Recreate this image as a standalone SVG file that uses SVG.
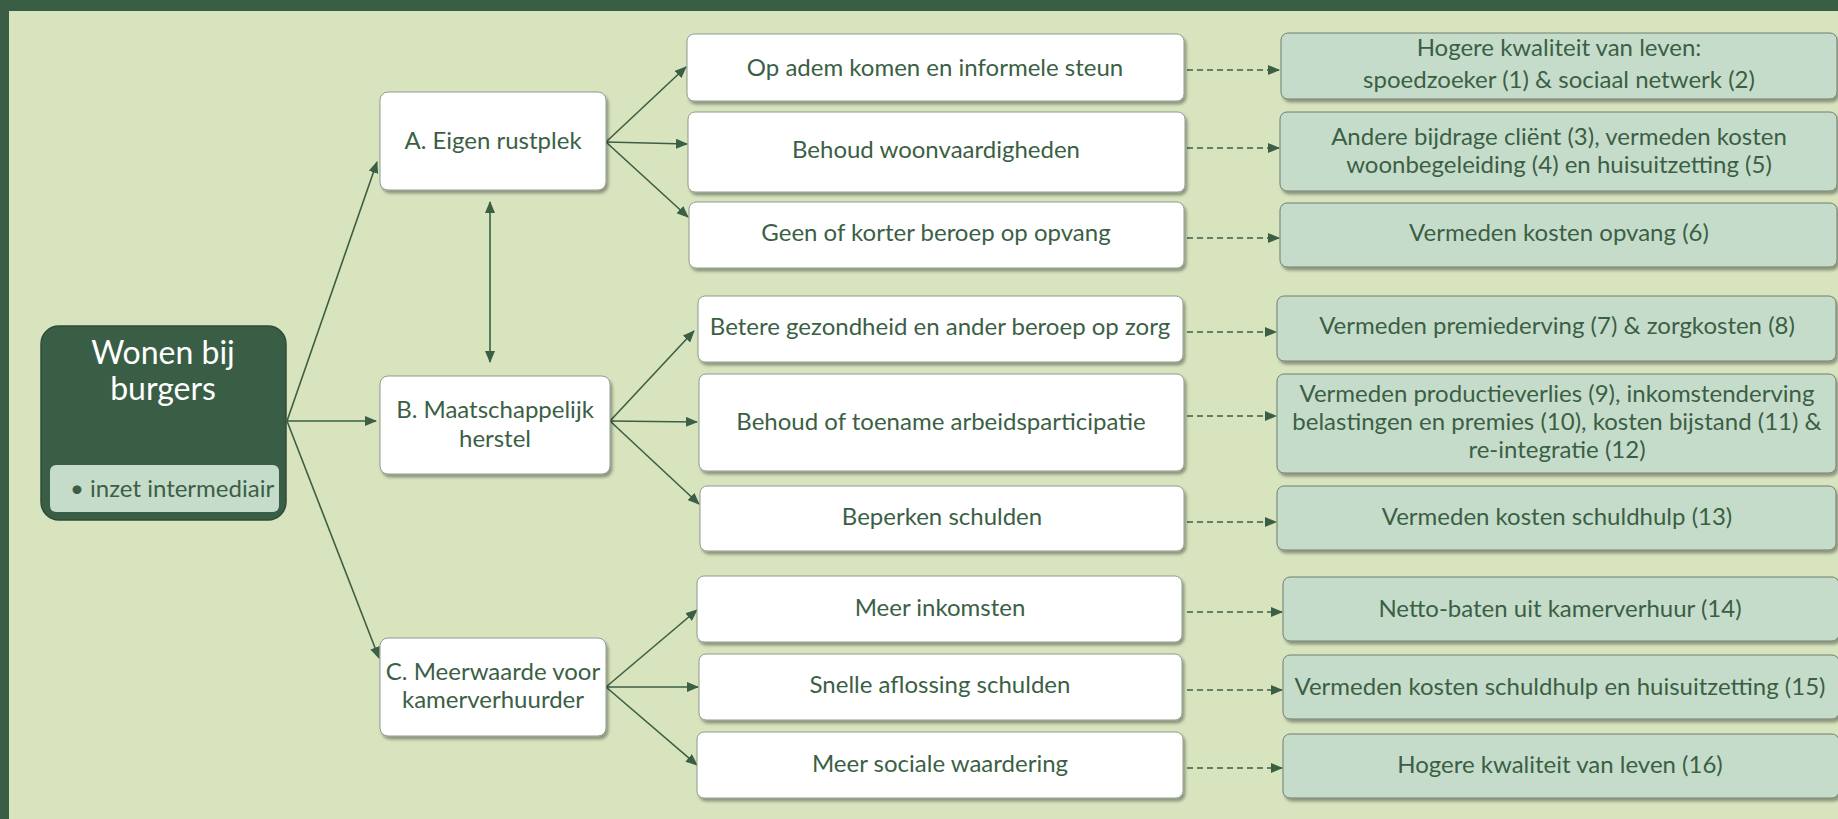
<svg xmlns="http://www.w3.org/2000/svg" width="1838" height="819" viewBox="0 0 1838 819">
<defs>
<style>
.t{font-family:Lato,"Liberation Sans",sans-serif;font-size:24px;fill:#3B5F45;text-anchor:middle}
.wt{font-family:Lato,"Liberation Sans",sans-serif;font-size:32px;fill:#ffffff;text-anchor:middle}
.w{fill:#ffffff;stroke:#8E9A8E;stroke-width:1}
.g{fill:#C6DCCA;stroke:#6E7F70;stroke-width:1}
.c{stroke:#3B5F45;stroke-width:1.6;fill:none}
.d{stroke:#3B5F45;stroke-width:1.6;fill:none;stroke-dasharray:6 4}
</style>
<filter id="sh" x="-5%" y="-10%" width="115%" height="130%"><feDropShadow dx="2" dy="3" stdDeviation="1.5" flood-color="#000" flood-opacity="0.35"/></filter>
<marker id="ah" markerWidth="12" markerHeight="10" refX="11" refY="5" orient="auto-start-reverse" markerUnits="userSpaceOnUse"><path d="M0,0 L12,5 L0,10 z" fill="#3B5F45"/></marker>
</defs>
<rect x="0" y="0" width="1838" height="819" fill="#D8E4BE"/>
<rect x="0" y="0" width="1838" height="11" fill="#3A5E45"/>
<rect x="0" y="0" width="9" height="819" fill="#3A5E45"/>

<g id="connectors">
<path class="c" d="M287,421 L377,162" marker-end="url(#ah)"/>
<path class="c" d="M287,421 L376,421" marker-end="url(#ah)"/>
<path class="c" d="M287,421 L379,658" marker-end="url(#ah)"/>
<path class="c" d="M490,202 L490,362" marker-start="url(#ah)" marker-end="url(#ah)"/>
<path class="c" d="M606,142 L686,67" marker-end="url(#ah)"/>
<path class="c" d="M606,142 L687,144" marker-end="url(#ah)"/>
<path class="c" d="M606,142 L688,217" marker-end="url(#ah)"/>
<path class="c" d="M610,421 L694,331" marker-end="url(#ah)"/>
<path class="c" d="M610,421 L697,422" marker-end="url(#ah)"/>
<path class="c" d="M610,421 L699,504" marker-end="url(#ah)"/>
<path class="c" d="M606,687 L697,610" marker-end="url(#ah)"/>
<path class="c" d="M606,687 L698,687" marker-end="url(#ah)"/>
<path class="c" d="M606,687 L697,765" marker-end="url(#ah)"/>
<path class="d" d="M1187,70 L1279,70" marker-end="url(#ah)"/>
<path class="d" d="M1187,148 L1279,148" marker-end="url(#ah)"/>
<path class="d" d="M1187,238 L1279,238" marker-end="url(#ah)"/>
<path class="d" d="M1187,332 L1276,332" marker-end="url(#ah)"/>
<path class="d" d="M1187,416 L1276,416" marker-end="url(#ah)"/>
<path class="d" d="M1187,522 L1276,522" marker-end="url(#ah)"/>
<path class="d" d="M1187,612 L1282,612" marker-end="url(#ah)"/>
<path class="d" d="M1187,690 L1282,690" marker-end="url(#ah)"/>
<path class="d" d="M1187,768 L1282,768" marker-end="url(#ah)"/>
</g>

<g id="main">
<rect x="41" y="326" width="245" height="194" rx="18" fill="#3A5E45" stroke="#2F4C38" stroke-width="1.5"/>
<text class="wt" x="163" y="364">Wonen bij</text>
<text class="wt" x="163" y="400">burgers</text>
<rect x="50" y="465" width="229" height="47" rx="6" fill="#C6DCCA"/>
<text x="70" y="497" style="font-family:Lato,'Liberation Sans',sans-serif;font-size:24px;fill:#3B5F45">• inzet intermediair</text>
</g>

<g id="nodeA"><rect class="w" filter="url(#sh)" x="380" y="92" width="226" height="98" rx="8"/><text class="t" x="493" y="149">A. Eigen rustplek</text></g>
<g id="nodeB"><rect class="w" filter="url(#sh)" x="380" y="376" width="230" height="98" rx="8"/><text class="t" x="495" y="418">B. Maatschappelijk</text><text class="t" x="495" y="447">herstel</text></g>
<g id="nodeC"><rect class="w" filter="url(#sh)" x="380" y="638" width="226" height="98" rx="8"/><text class="t" x="493" y="680">C. Meerwaarde voor</text><text class="t" x="493" y="708">kamerverhuurder</text></g>

<g id="m1"><rect class="w" filter="url(#sh)" x="687" y="34" width="497" height="67" rx="7"/><text class="t" x="935" y="76">Op adem komen en informele steun</text></g>
<g id="m2"><rect class="w" filter="url(#sh)" x="688" y="112" width="497" height="80" rx="7"/><text class="t" x="936" y="158">Behoud woonvaardigheden</text></g>
<g id="m3"><rect class="w" filter="url(#sh)" x="689" y="202" width="495" height="66" rx="7"/><text class="t" x="936" y="241">Geen of korter beroep op opvang</text></g>
<g id="m4"><rect class="w" filter="url(#sh)" x="698" y="296" width="485" height="66" rx="7"/><text class="t" x="940" y="335">Betere gezondheid en ander beroep op zorg</text></g>
<g id="m5"><rect class="w" filter="url(#sh)" x="699" y="374" width="485" height="97" rx="7"/><text class="t" x="941" y="430">Behoud of toename arbeidsparticipatie</text></g>
<g id="m6"><rect class="w" filter="url(#sh)" x="700" y="486" width="484" height="65" rx="7"/><text class="t" x="942" y="525">Beperken schulden</text></g>
<g id="m7"><rect class="w" filter="url(#sh)" x="697" y="576" width="485" height="66" rx="7"/><text class="t" x="940" y="616">Meer inkomsten</text></g>
<g id="m8"><rect class="w" filter="url(#sh)" x="699" y="654" width="483" height="66" rx="7"/><text class="t" x="940" y="693">Snelle aflossing schulden</text></g>
<g id="m9"><rect class="w" filter="url(#sh)" x="697" y="732" width="486" height="66" rx="7"/><text class="t" x="940" y="772">Meer sociale waardering</text></g>

<g id="r1"><rect class="g" filter="url(#sh)" x="1281" y="33" width="556" height="66" rx="7"/><text class="t" x="1559" y="56">Hogere kwaliteit van leven:</text><text class="t" x="1559" y="88">spoedzoeker (1) &amp; sociaal netwerk (2)</text></g>
<g id="r2"><rect class="g" filter="url(#sh)" x="1280" y="112" width="557" height="79" rx="7"/><text class="t" x="1559" y="145">Andere bijdrage cliënt (3), vermeden kosten</text><text class="t" x="1559" y="173">woonbegeleiding (4) en huisuitzetting (5)</text></g>
<g id="r3"><rect class="g" filter="url(#sh)" x="1280" y="203" width="557" height="64" rx="7"/><text class="t" x="1559" y="241">Vermeden kosten opvang (6)</text></g>
<g id="r4"><rect class="g" filter="url(#sh)" x="1277" y="296" width="559" height="65" rx="7"/><text class="t" x="1557" y="334">Vermeden premiederving (7) &amp; zorgkosten (8)</text></g>
<g id="r5"><rect class="g" filter="url(#sh)" x="1277" y="374" width="559" height="99" rx="7"/><text class="t" x="1557" y="402">Vermeden productieverlies (9), inkomstenderving</text><text class="t" x="1557" y="430">belastingen en premies (10), kosten bijstand (11) &amp;</text><text class="t" x="1557" y="458">re-integratie (12)</text></g>
<g id="r6"><rect class="g" filter="url(#sh)" x="1277" y="486" width="559" height="64" rx="7"/><text class="t" x="1557" y="525">Vermeden kosten schuldhulp (13)</text></g>
<g id="r7"><rect class="g" filter="url(#sh)" x="1283" y="577" width="556" height="64" rx="7"/><text class="t" x="1560" y="617">Netto-baten uit kamerverhuur (14)</text></g>
<g id="r8"><rect class="g" filter="url(#sh)" x="1283" y="655" width="556" height="64" rx="7"/><text class="t" x="1560" y="695">Vermeden kosten schuldhulp en huisuitzetting (15)</text></g>
<g id="r9"><rect class="g" filter="url(#sh)" x="1283" y="734" width="556" height="64" rx="7"/><text class="t" x="1560" y="773">Hogere kwaliteit van leven (16)</text></g>
</svg>
